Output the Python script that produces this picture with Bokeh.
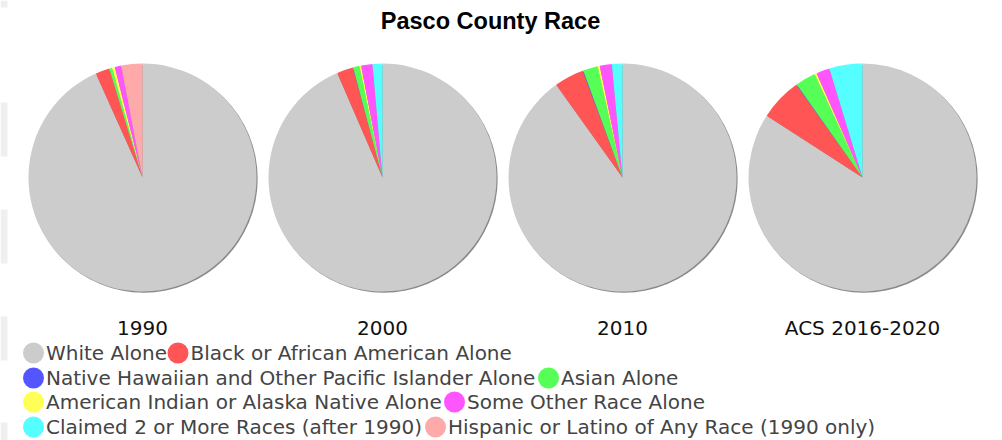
import math
from bokeh.plotting import figure
from bokeh.models import Range1d, ColumnDataSource
from bokeh.core.properties import value
from bokeh.embed import file_html
from bokeh.resources import INLINE

title = "Pasco County Race"
categories = [
    "White Alone",
    "Black or African American Alone",
    "Native Hawaiian and Other Pacific Islander Alone",
    "Asian Alone",
    "American Indian or Alaska Native Alone",
    "Some Other Race Alone",
    "Claimed 2 or More Races (after 1990)",
    "Hispanic or Latino of Any Race (1990 only)",
]
colors = ["#cccccc", "#ff5555", "#5555ff", "#55ff55", "#ffff55", "#ff55ff", "#55ffff", "#ffaaaa"]
years = ["1990", "2000", "2010", "ACS 2016-2020"]
v1990 = [93.2, 2.0, 0.0, 0.4, 0.4, 0.9, 0.0, 3.0]
v2000 = [93.5, 2.3, 0.05, 0.9, 0.25, 1.6, 1.4, 0.0]
v2010 = [90.2, 4.2, 0.1, 2.1, 0.3, 1.7, 1.5, 0.0]
vacs = [84.2, 6.0, 0.1, 2.9, 0.3, 1.9, 4.7, 0.0]
series = [v1990, v2000, v2010, vacs]

# legend layout (rows of category indices)
legend_rows = [[0, 1], [2, 3], [4, 5], [6, 7]]

W, H = 1002, 440
p = figure(width=W, height=H, output_backend="svg", toolbar_location=None,
           x_range=Range1d(0, W), y_range=Range1d(0, H),
           min_border=0, outline_line_color=None)
p.axis.visible = False
p.grid.visible = False
p.background_fill_color = "white"
p.border_fill_color = "white"

def Y(page_y):
    return H - page_y

# faint page-edge bands (decoration seen at the left edge)
band_top = [0, 102, 209, 316, 422]
band_bot = [7, 156, 263, 360, 440]
p.quad(left=0, right=7, top=[Y(t) for t in band_top], bottom=[Y(b) for b in band_bot],
       fill_color="#efefef", line_color=None)

# pies
cx0, dx, cy, R = 142, 240, 177, 114
for i, vals in enumerate(series):
    cx = cx0 + i * dx
    total = sum(vals)
    xs, ys, starts, ends, cs = [], [], [], [], []
    cum = 0.0
    for v, c in zip(vals, colors):
        a0 = math.pi / 2 - 2 * math.pi * cum / total
        cum += v
        a1 = math.pi / 2 - 2 * math.pi * cum / total
        if v > 0:
            xs.append(cx); ys.append(Y(cy))
            starts.append(a0); ends.append(a1); cs.append(c)
    src = ColumnDataSource(dict(x=xs, y=ys, s=starts, e=ends, c=cs))
    # soft shadow
    p.circle(x=[cx + 1.2], y=[Y(cy + 1.2)], radius=R, fill_color="#8a8a8a", line_color=None)
    p.wedge(x="x", y="y", radius=R, start_angle="s", end_angle="e", direction="clock",
            fill_color="c", line_color=None, source=src)
    p.text(x=[cx], y=[Y(327)], text=[years[i]], text_font=value("DejaVu Sans"),
           text_font_size="20px", text_color="#111111", text_align="center",
           text_baseline="middle")

# title
p.text(x=[490], y=[Y(20)], text=[title], text_font=value("Liberation Sans"),
       text_font_style="bold", text_font_size="23.5px", text_color="#000000",
       text_align="center", text_baseline="middle")

# legend (flow layout positions)
row_y = [352.5, 377.5, 401.5, 426.5]
second_x = [177.5, 548, 454, 435]
for r, idxs in enumerate(legend_rows):
    xs = [33, second_x[r]]
    for k, ci in enumerate(idxs):
        p.scatter(x=[xs[k]], y=[Y(row_y[r])], size=21, marker="circle",
                  fill_color=colors[ci], line_color=None)
        p.text(x=[xs[k] + 12.5], y=[Y(row_y[r])], text=[categories[ci]],
               text_font=value("DejaVu Sans"), text_font_size="20px",
               text_color="#444444", text_align="left", text_baseline="middle")

open("out.html", "w").write(file_html(p, INLINE))
